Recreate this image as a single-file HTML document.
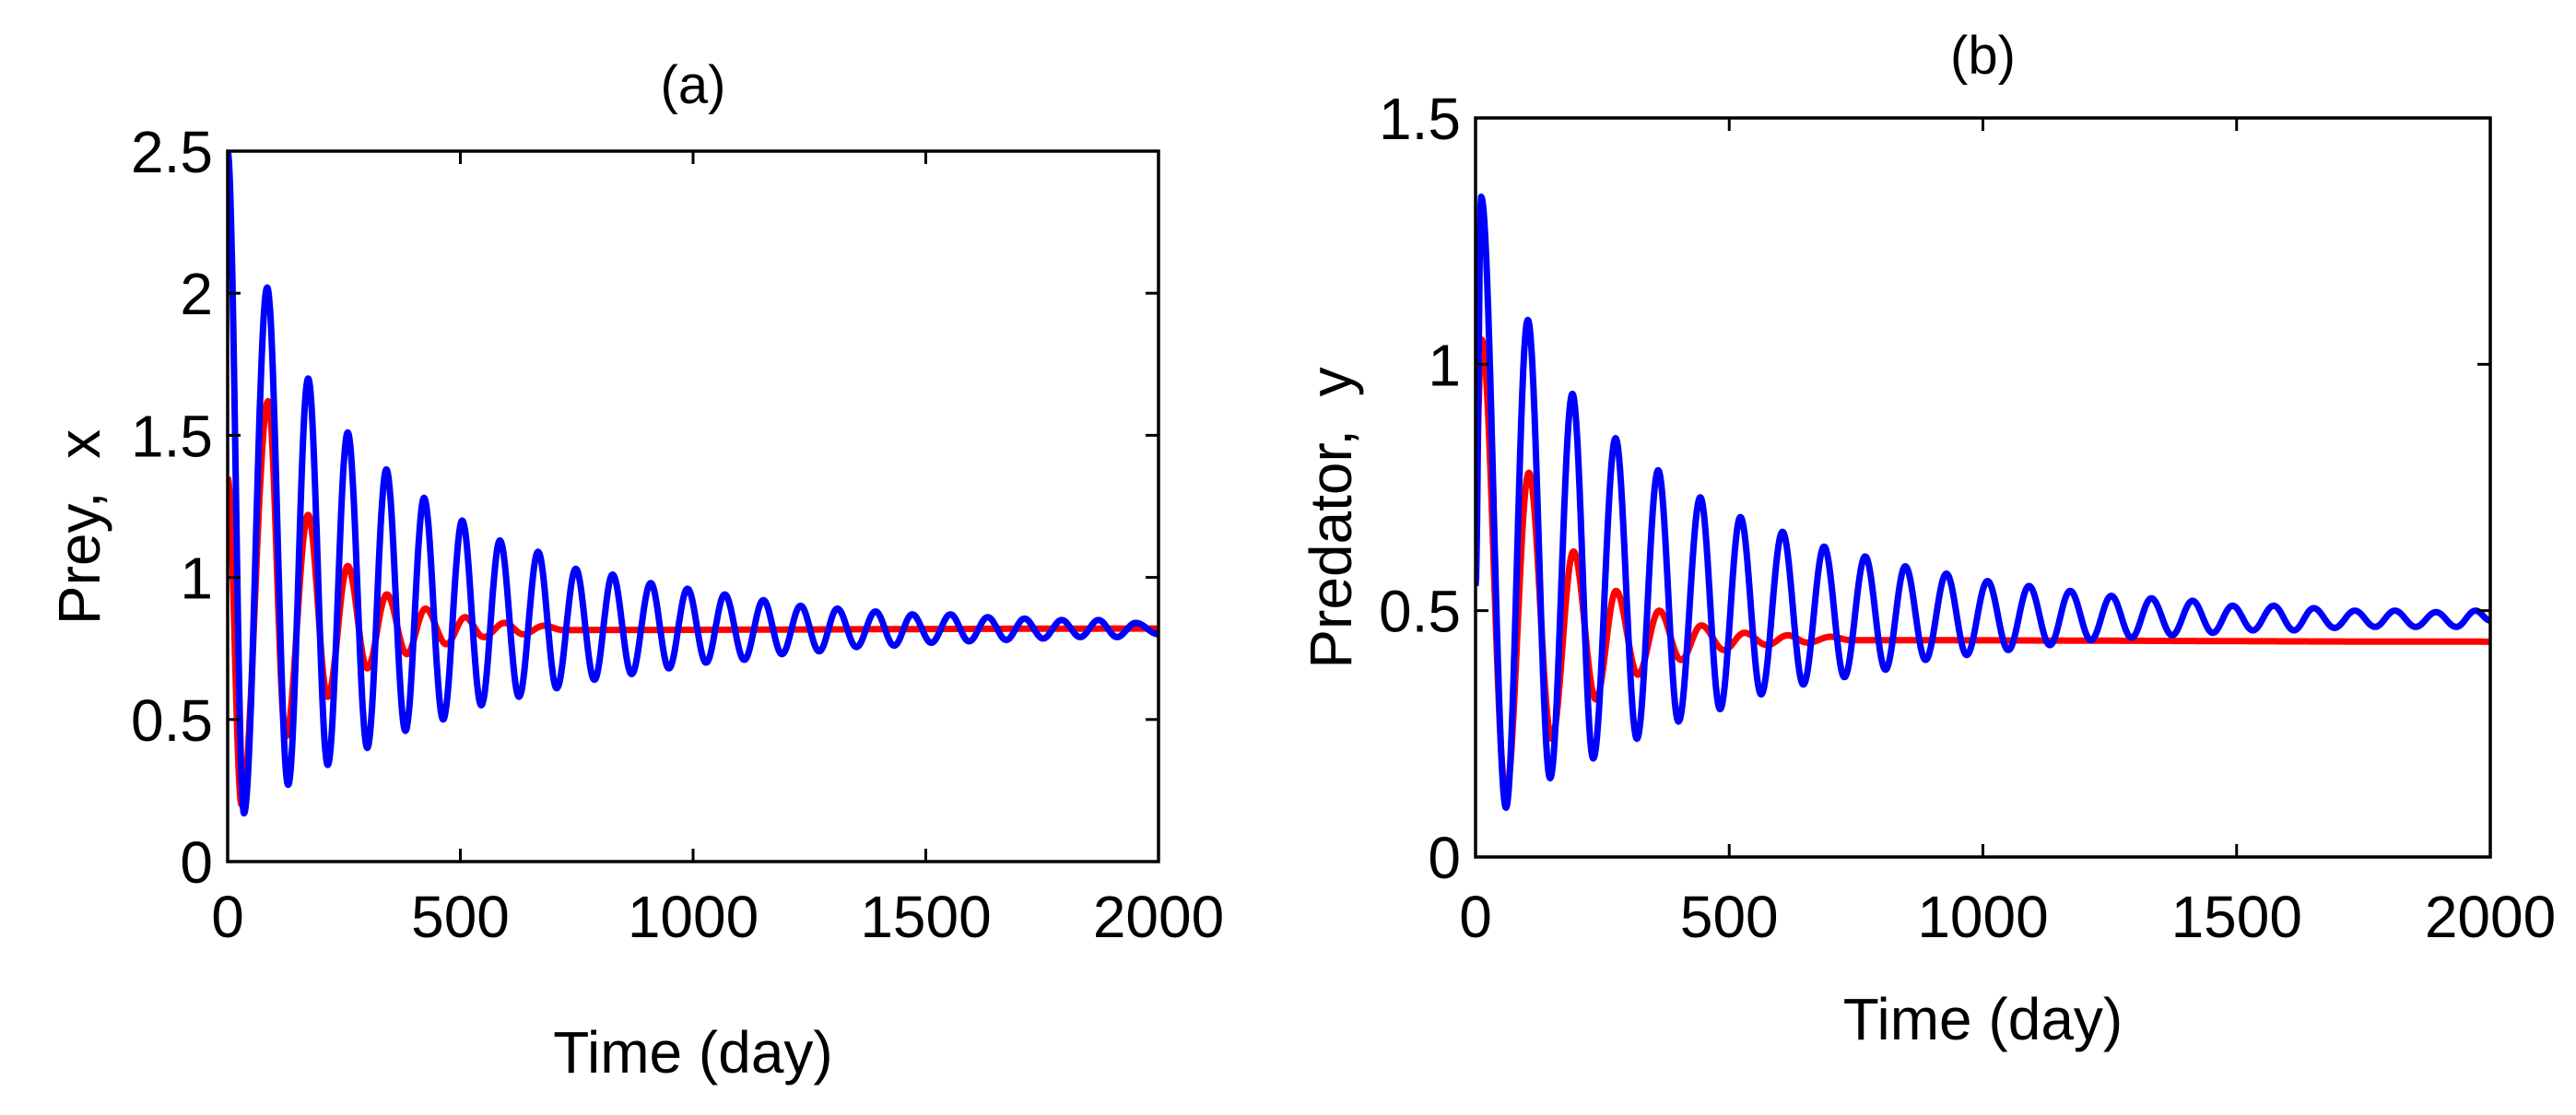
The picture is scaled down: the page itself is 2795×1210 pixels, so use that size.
<!DOCTYPE html>
<html><head><meta charset="utf-8"><style>
html,body{margin:0;padding:0;background:#fff;}
svg{display:block;font-family:"Liberation Sans",sans-serif;}
text{white-space:pre;}
</style></head><body>
<svg id="fig" width="2795" height="1210" viewBox="0 0 2795 1210" xmlns="http://www.w3.org/2000/svg"></svg>
<script>
// Panel (a) prey: extrema times (day) and values
const aBlueT = [0,35,85,130,173,215,258,300,341,382,422,463,504,545,585,626,667,707,748,788,827,868,909,948,988,1028,1068,1110,1151,1191,1231,1271,1310,1351,1392,1432,1471,1512,1553,1593,1633,1673,1712,1752,1792,1832,1871,1911,1951,2000];
const aBlueV = [2.5,0.17,2.02,0.27,1.70,0.34,1.51,0.40,1.38,0.46,1.28,0.50,1.20,0.55,1.13,0.58,1.09,0.61,1.03,0.64,1.01,0.66,0.98,0.68,0.96,0.70,0.94,0.71,0.92,0.73,0.90,0.74,0.89,0.755,0.88,0.76,0.87,0.77,0.87,0.775,0.86,0.78,0.855,0.785,0.85,0.79,0.85,0.79,0.84,0.80];
const aRedT = [0,30,87,125,173,215,258,300,342,385,425,470,510,550,595,635,680,720,2000];
const aRedV = [1.35,0.20,1.62,0.44,1.22,0.58,1.04,0.68,0.94,0.73,0.89,0.765,0.86,0.79,0.84,0.80,0.83,0.815,0.82];
// Panel (b) predator
const bBlueT = [0,11,60,103,147,191,232,276,318,360,400,443,482,522,563,605,646,687,727,768,808,847,887,928,968,1009,1050,1091,1132,1172,1213,1253,1293,1332,1373,1413,1453,1492,1532,1573,1613,1652,1693,1733,1773,1812,1853,1893,1933,1971,2000];
const bBlueV = [0.55,1.34,0.10,1.09,0.16,0.94,0.20,0.85,0.24,0.785,0.275,0.73,0.30,0.69,0.33,0.66,0.35,0.63,0.365,0.61,0.38,0.59,0.40,0.575,0.41,0.56,0.42,0.55,0.43,0.54,0.44,0.53,0.445,0.525,0.45,0.52,0.455,0.51,0.46,0.51,0.46,0.505,0.465,0.50,0.467,0.50,0.467,0.497,0.467,0.50,0.48];
const bRedT = [0,12,60,105,150,193,237,277,320,362,405,445,490,530,575,615,655,700,740,2000];
const bRedV = [0.78,1.05,0.13,0.78,0.24,0.62,0.32,0.54,0.37,0.50,0.40,0.47,0.42,0.455,0.43,0.45,0.435,0.447,0.44,0.437];
const xTicks = [0,500,1000,1500,2000];
const xTickLabels = ["0","500","1000","1500","2000"];
const aYTicks = [0,0.5,1,1.5,2,2.5];
const aYTickLabels = ["0","0.5","1","1.5","2","2.5"];
const bYTicks = [0,0.5,1,1.5];
const bYTickLabels = ["0","0.5","1","1.5"];

const NS="http://www.w3.org/2000/svg";
const svg=document.getElementById('fig');
function mk(tag,attrs,parent){const e=document.createElementNS(NS,tag);for(const k in attrs)e.setAttribute(k,attrs[k]);(parent||svg).appendChild(e);return e;}
function interp(T,V,t){
  for(let i=0;i<T.length-1;i++){
    if(t>=T[i]&&t<=T[i+1]){const s=(t-T[i])/(T[i+1]-T[i]);return V[i]+(V[i+1]-V[i])*(1-Math.cos(Math.PI*s))/2;}
  }
  return V[V.length-1];
}
function panel(cfg){
  const g=mk('g',{});
  
  
  const sx=v=>cfg.x0+(v-0)/(2000)*(cfg.x1-cfg.x0);
  const sy=v=>cfg.yb-(v)/(cfg.ymax)*(cfg.yb-cfg.yt);
  const clip=mk('clipPath',{id:cfg.name+'-clip'},g);
  mk('rect',{x:cfg.x0,y:cfg.yt,width:cfg.x1-cfg.x0,height:cfg.yb-cfg.yt},clip);
  const series=[[cfg.redT,cfg.redV,'#ff0000','red-series'],[cfg.blueT,cfg.blueV,'#0000ff','blue-series']];
  for(const [T,V,col,nm] of series){
    let d='';
    for(let t=0;t<=2000;t+=1){d+=(t?'L':'M')+sx(t).toFixed(1)+','+sy(interp(T,V,t)).toFixed(1);}
    const p=mk('path',{d:d,fill:'none',stroke:col,'stroke-width':7,'stroke-linejoin':'round','clip-path':'url(#'+cfg.name+'-clip)'},g);
    
    
  }
  const box=mk('rect',{x:cfg.x0,y:cfg.yt,width:cfg.x1-cfg.x0,height:cfg.yb-cfg.yt,fill:'none',stroke:'#000','stroke-width':3.5},g);
  
  
  const L=14;
  xTicks.forEach((v,i)=>{
    const x=sx(v);
    mk('line',{x1:x,y1:cfg.yb,x2:x,y2:cfg.yb-L,stroke:'#000','stroke-width':3},g);
    mk('line',{x1:x,y1:cfg.yt,x2:x,y2:cfg.yt+L,stroke:'#000','stroke-width':3},g);
    const t=mk('text',{x:x,y:1017,'font-size':64,'text-anchor':'middle'},g);
    t.textContent=xTickLabels[i];
    
    
  });
  cfg.yTicks.forEach((v,i)=>{
    const y=sy(v);
    mk('line',{x1:cfg.x0,y1:y,x2:cfg.x0+L,y2:y,stroke:'#000','stroke-width':3},g);
    mk('line',{x1:cfg.x1,y1:y,x2:cfg.x1-L,y2:y,stroke:'#000','stroke-width':3},g);
    const t=mk('text',{x:cfg.x0-16,y:y+23,'font-size':64,'text-anchor':'end'},g);
    t.textContent=cfg.yLabels[i];
    
    
  });
  const xl=mk('text',{x:(cfg.x0+cfg.x1)/2,y:cfg.xlY,'font-size':64,'text-anchor':'middle'},g);
  xl.textContent='Time (day)';
  
  
  const yl=mk('text',{x:0,y:0,'font-size':64,'text-anchor':'middle',transform:'translate('+cfg.ylX+','+cfg.ylY+') rotate(-90)'},g);
  yl.textContent=cfg.ylabel;
  
  
  const ti=mk('text',{x:(cfg.x0+cfg.x1)/2,y:cfg.titleY,'font-size':58,'text-anchor':'middle'},g);
  ti.textContent=cfg.title;
  
  
}
panel({name:'panel-a-prey',x0:247,x1:1257,yt:164,yb:935,ymax:2.5,yTicks:aYTicks,yLabels:aYTickLabels,
  blueT:aBlueT,blueV:aBlueV,redT:aRedT,redV:aRedV,xlY:1164,ylX:108,ylY:572,ylabel:'Prey,  x',title:'(a)',titleY:112});
panel({name:'panel-b-predator',x0:1601,x1:2702,yt:128,yb:930,ymax:1.5,yTicks:bYTicks,yLabels:bYTickLabels,
  blueT:bBlueT,blueV:bBlueV,redT:bRedT,redV:bRedV,xlY:1128,ylX:1466,ylY:562,ylabel:'Predator,  y',title:'(b)',titleY:80});
</script>
</body></html>
